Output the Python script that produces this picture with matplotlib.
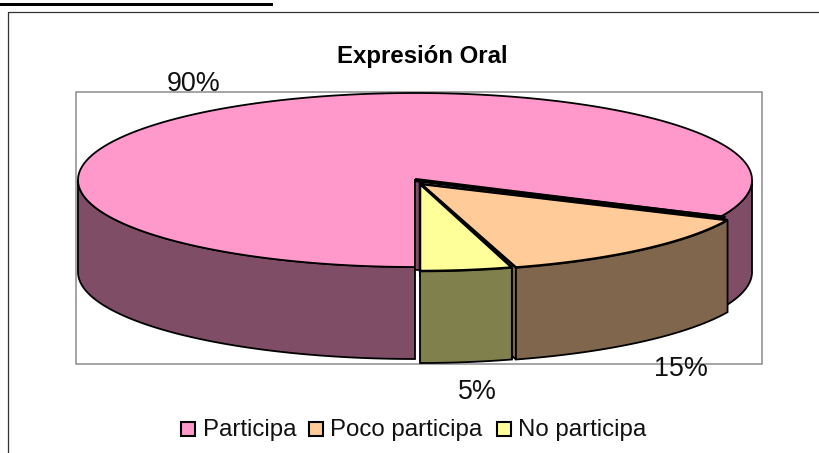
import numpy as np
import matplotlib
matplotlib.use('Agg')
import matplotlib.pyplot as plt
from matplotlib.patches import Polygon, Rectangle

plt.rcParams['font.family'] = ['Liberation Sans', 'DejaVu Sans']

title = 'Expresión Oral'
categories = ['Participa', 'Poco participa', 'No participa']
values = [90, 15, 5]
labels = ['90%', '15%', '5%']
top_colors = ['#FF99CC', '#FFCC99', '#FFFF99']
side_colors = ['#804D66', '#80664D', '#80804D']

# ellipse geometry in pixels, slices pulled out a bit from the centre
rx = 337
ry = 87
depth = 92
centers = [(415, 180), (421, 184), (420, 184)]
radius_x = [rx, rx, 326]

fig = plt.figure(figsize=(8.19, 4.53), dpi=100)
ax = fig.add_axes([0, 0, 1, 1])
ax.set_xlim(0, 819)
ax.set_ylim(453, 0)
ax.axis('off')

# black bar over the chart and the chart frame (no bottom or right side shown)
ax.add_patch(Rectangle((0, 2.5), 273, 3.5, fc='black', ec='none'))
ax.plot([8, 8, 819], [453, 12, 12], color='#333333', lw=0.9)

# plot area
ax.add_patch(Rectangle((76, 92), 686, 272, fc='white', ec='#8c8c8c', lw=1.1))


def ell(c, a, r=rx):
    return c[0] + r * np.cos(a), c[1] - ry * np.sin(a)


def wall(c, a0, a1, color, r=rx):
    # outer side of the slice, the part facing the viewer
    t = np.linspace(a0, a1, 120)
    x, y = ell(c, t, r)
    pts = np.r_[np.c_[x, y], np.c_[x[::-1], y[::-1] + depth]]
    ax.add_patch(Polygon(pts, fc=color, ec='black', lw=1.3, joinstyle='miter'))


def cut(c, a, color, r=rx, lw=1.3):
    # flat cut face of a slice
    x, y = ell(c, a, r)
    pts = [c, (x, y), (x, y + depth), (c[0], c[1] + depth)]
    ax.add_patch(Polygon(pts, fc=color, ec='black', lw=lw, joinstyle='miter'))


def top(c, a0, a1, color, r=rx, lw=1.3):
    t = np.linspace(a0, a1, 300)
    x, y = ell(c, t, r)
    pts = np.r_[[c], np.c_[x, y]]
    ax.add_patch(Polygon(pts, fc=color, ec='black', lw=lw, joinstyle='miter'))


# slices run counter clockwise from straight down, last category first
fr = np.array(values) / sum(values)
a_yellow = -np.pi / 2
a_orange = a_yellow + 2 * np.pi * fr[2]
a_pink = a_orange + 2 * np.pi * fr[1]
a_end = a_yellow + 2 * np.pi

# pink slice: its visible walls first
wall(centers[0], a_pink, 0, side_colors[0])
wall(centers[0], np.pi, a_end, side_colors[0])
top(centers[0], a_pink, a_end, top_colors[0])
ax.add_patch(Rectangle((415, 180), 5, 90, fc=side_colors[0], ec='black', lw=1.2))
px, py = ell(centers[0], a_pink)
ax.plot([centers[0][0], px + 4], [centers[0][1], py + 2], color='black', lw=3, solid_capstyle='butt')

# orange slice
cut(centers[1], a_orange, side_colors[1])
wall(centers[1], a_orange, a_pink, side_colors[1])
top(centers[1], a_orange, a_pink, top_colors[1], lw=1.8)

# yellow slice
cut(centers[2], a_orange, side_colors[2], r=radius_x[2])
wall(centers[2], a_yellow, a_orange, side_colors[2], r=radius_x[2])
top(centers[2], a_yellow, a_orange, top_colors[2], r=radius_x[2], lw=1.8)

# texts
ax.text(422, 56.5, title, fontsize=17.3, fontweight='bold', ha='center', va='center', color='black')
ax.text(194, 84, labels[0], fontsize=19.4, ha='center', va='center', color='#111111')
ax.text(681, 369, labels[1], fontsize=19.4, ha='center', va='center', color='#111111')
ax.text(477, 392, labels[2], fontsize=19.4, ha='center', va='center', color='#111111')

# legend
box_x = [181, 309, 497]
text_x = [203, 330, 518]
for bx, tx, name, color in zip(box_x, text_x, categories, top_colors):
    ax.add_patch(Rectangle((bx, 422), 14, 14, fc=color, ec='black', lw=1.5))
    ax.text(tx, 430, name, fontsize=17.3, ha='left', va='center', color='#111111')

fig.savefig('out.png', dpi=100)
